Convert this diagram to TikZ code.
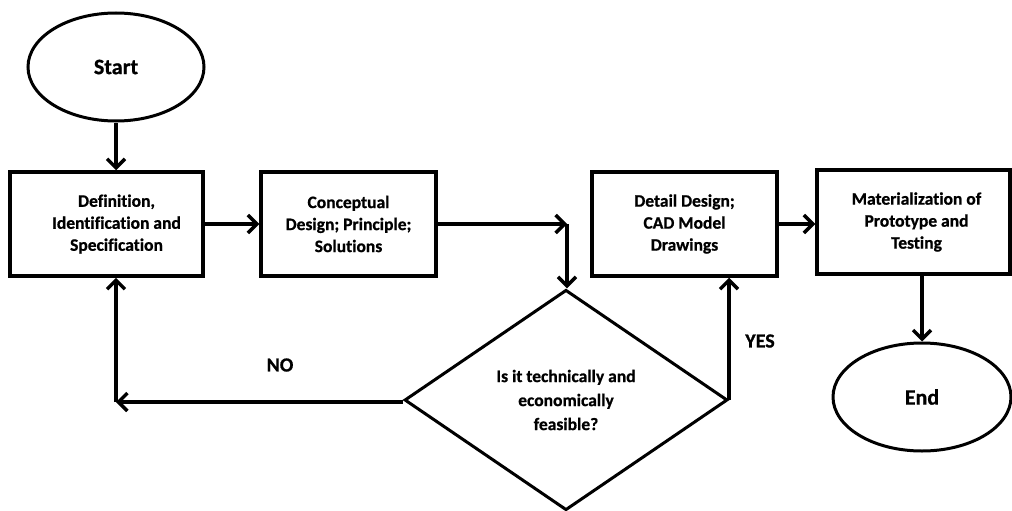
\documentclass[tikz,border=0pt]{standalone}
\usepackage{fontspec}
\setmainfont{Carlito}[Ligatures=CommonOff,BoldFeatures={FakeBold=0.8}]
\usetikzlibrary{arrows.meta,shapes.geometric}
\begin{document}
\begin{tikzpicture}[x=1pt,y=-1pt,
  txt/.style={font=\bfseries\fontsize{17.5}{22}\selectfont},
  boxnode/.style={draw,line width=3.5pt,minimum width=#1,minimum height=104pt,align=center,inner sep=0pt,txt},
  boxnode/.default=190pt,
  term/.style={draw,ellipse,line width=3pt,minimum width=176pt,minimum height=108pt,font=\bfseries\fontsize{22}{26}\selectfont},
  decision/.style={draw,diamond,line width=3pt,minimum width=323pt,minimum height=220pt,inner sep=0pt,align=center,font=\bfseries\fontsize{17.5}{24}\selectfont},
  conn/.style={line width=4pt,-{Straight Barb[length=9pt,width=18pt,line width=3.5pt]}},
  lbl/.style={font=\bfseries\fontsize{20}{24}\selectfont}]
\useasboundingbox (0,0) rectangle (1012,511);
\node[term] (start) at (116,67) {Start};
\node[boxnode=193pt] (b1) at (106.5,224) {\hspace*{20pt}\parbox{168pt}{\centering Definition,\\Identification and\\Specification}};
\node[boxnode=175pt] (b2) at (348.5,224) {Conceptual\\Design; Principle;\\Solutions};
\node[boxnode=185pt] (b3) at (684.5,224) {Detail Design;\\CAD Model\\Drawings};
\node[boxnode=193pt] (b4) at (913.5,222) {\hspace*{6pt}\parbox{180pt}{\centering Materialization of\\Prototype and\\Testing}};
\node[decision] (d) at (566,400) {\raisebox{-6pt}{\parbox{160pt}{\centering Is it technically and\\economically\\feasible?}}};
\node[term,minimum width=178pt] (end) at (922,397) {End};
\coordinate (turn) at (567,224);
\coordinate (nocorner) at (116,402);
\node[lbl] (no) at (280,365) {NO};
\node[lbl] (yes) at (760,341) {YES};
\draw[conn] (start.south) -- (b1.north -| start.south);
\draw[conn] (b1.east) -- (b2.west);
\draw[conn] (b2.east) -- (turn);
\draw[conn] (turn) -- (d.north -| turn);
\draw[conn] (b3.east) -- (b4.west |- b3.east);
\draw[conn] (d.east) -- (d.east |- b3.south);
\draw[conn] (d.west |- nocorner) -- (nocorner);
\draw[conn] (nocorner) -- (nocorner |- b1.south);
\draw[conn] (b4.south -| end.north) -- (end.north);
\end{tikzpicture}
\end{document}
